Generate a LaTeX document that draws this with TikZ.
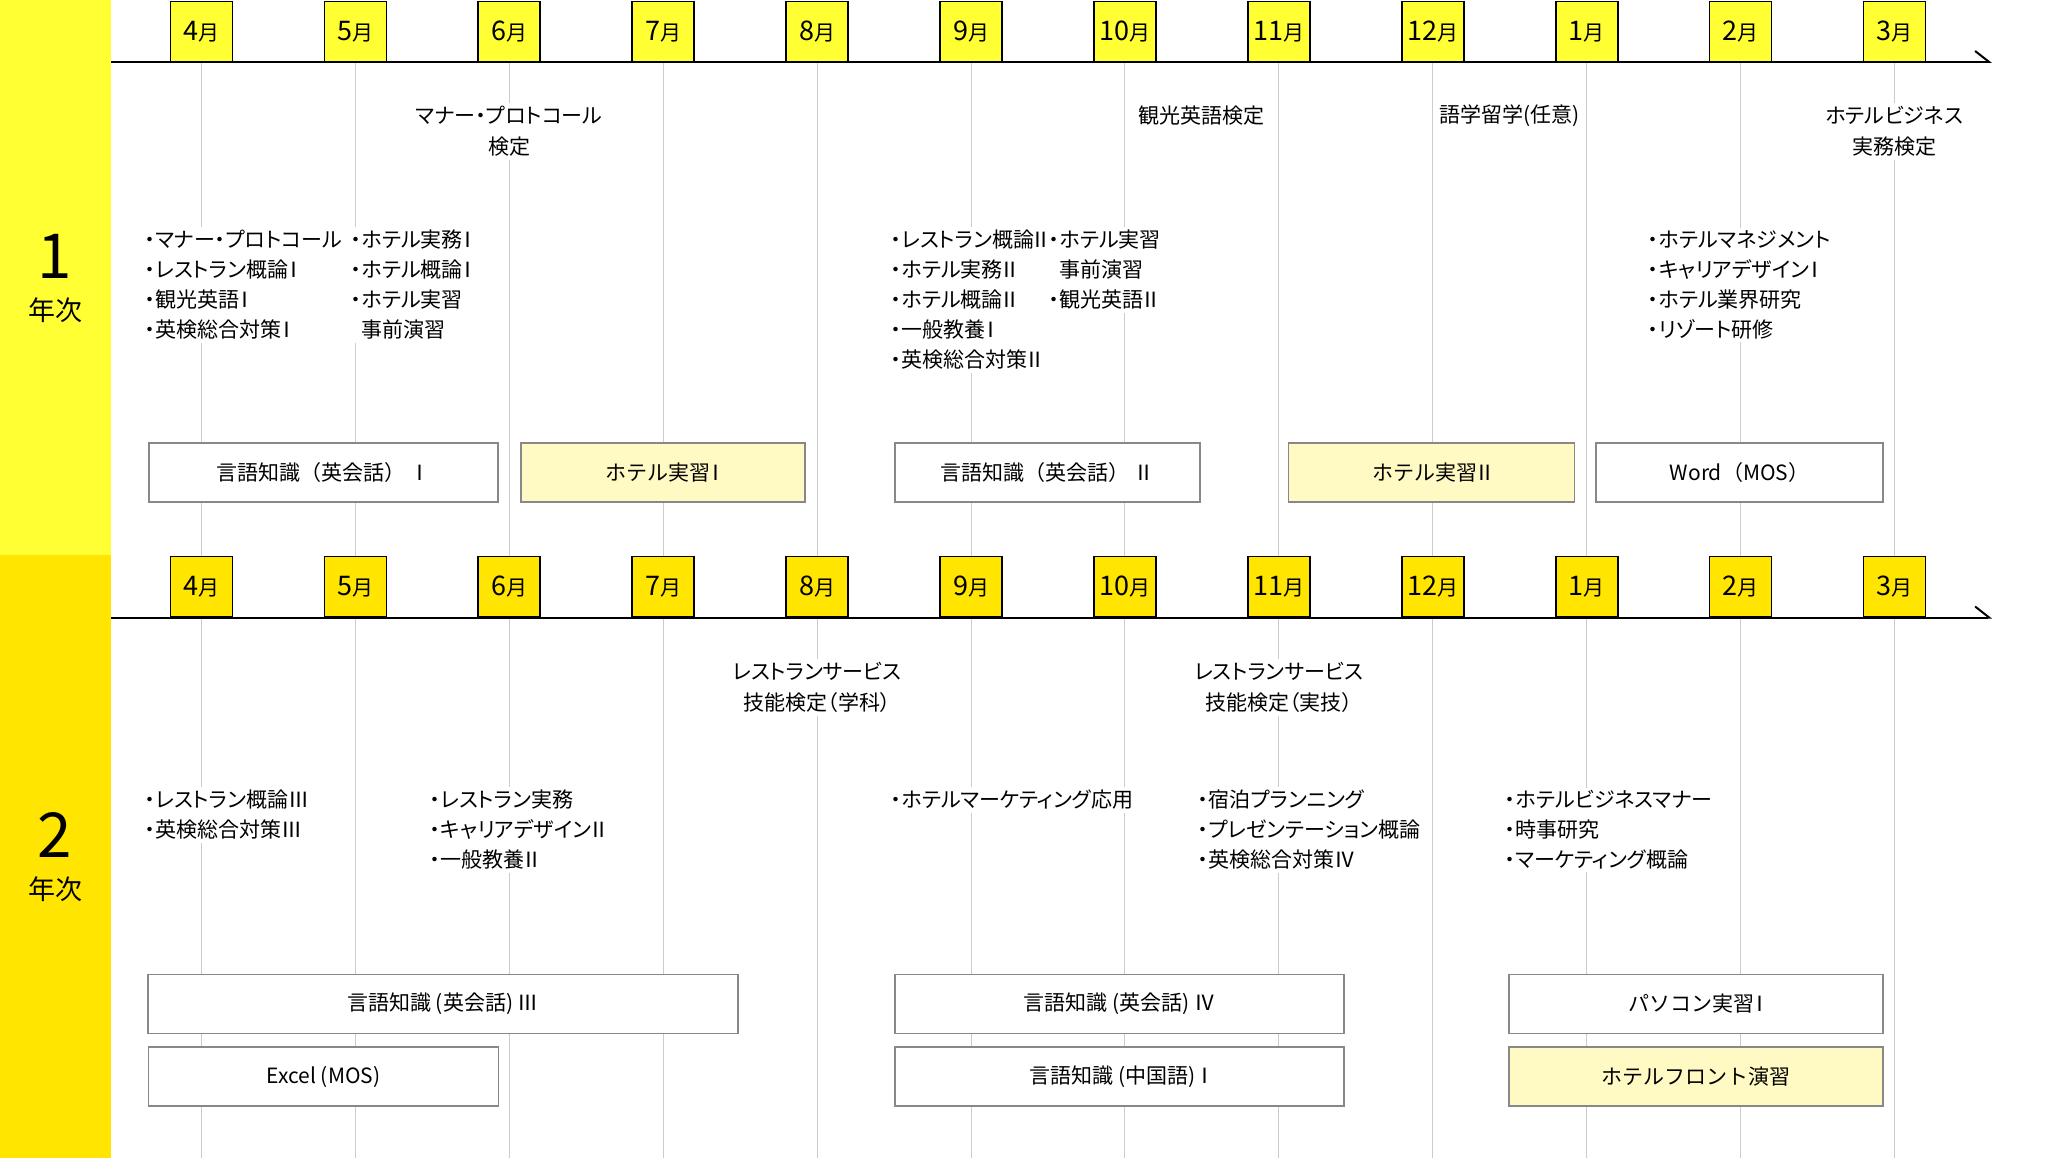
\documentclass[tikz,border=0pt]{standalone}
\usepackage{fontspec}
\setmainfont{Noto Sans CJK JP}
\newfontfamily\propfont{Noto Sans CJK JP}[RawFeature=+palt]
\usetikzlibrary{arrows.meta}
\definecolor{lemon}{RGB}{255,255,51}
\definecolor{gold}{RGB}{255,229,0}
\definecolor{cream}{RGB}{255,249,196}
\definecolor{rule}{RGB}{204,204,204}
\definecolor{frame}{RGB}{136,136,136}
\newcommand{\tsuki}[1]{{\fontsize{27}{27}\selectfont #1}月}
\newcommand{\rI}{\kern-.24em Ⅰ\kern-.3em}
\newcommand{\rII}{\kern-.15em Ⅱ\kern-.22em}
\begin{document}
\begin{tikzpicture}[x=1pt,y=-1pt,
    month/.style={draw=black,line width=1.8pt,minimum width=62pt,minimum height=60pt,
      inner sep=0pt,font=\fontsize{21}{21}\selectfont},
    mona/.style={month,fill=lemon},
    monb/.style={month,fill=gold},
    gridline/.style={rule,line width=1pt},
    axis/.style={line width=2pt,-{Straight Barb[harpoon,length=14pt,width=22pt]}},
    note/.style={anchor=west,fill=white,inner sep=3pt,align=left,
      font=\propfont\fontsize{21}{30}\selectfont},
    exam/.style={fill=white,inner sep=3pt,align=center,
      font=\propfont\fontsize{21}{31}\selectfont},
    course/.style={draw=frame,line width=1.8pt,fill=white,minimum height=59pt,
      inner sep=0pt,font=\fontsize{21}{21}\selectfont},
    practice/.style={course,fill=cream},
    year/.style={font=\fontsize{62}{62}\selectfont},
    nen/.style={font=\fontsize{27}{27}\selectfont}]
      \useasboundingbox (0,0) rectangle (2072,1158);
      \fill[white] (0,0) rectangle (2072,1158);
      \fill[lemon] (0,0) rectangle (111,555);
      \fill[gold] (0,555) rectangle (111,1158);
      \draw
        (201.5,31.5) node[mona] (a4){\tsuki{4}}
        (355.4,31.5) node[mona] (a5){\tsuki{5}}
        (509.3,31.5) node[mona] (a6){\tsuki{6}}
        (663.2,31.5) node[mona] (a7){\tsuki{7}}
        (817.1,31.5) node[mona] (a8){\tsuki{8}}
        (971.0,31.5) node[mona] (a9){\tsuki{9}}
        (1124.9,31.5) node[mona] (a10){\tsuki{10}}
        (1278.8,31.5) node[mona] (a11){\tsuki{11}}
        (1432.7,31.5) node[mona] (a12){\tsuki{12}}
        (1586.6,31.5) node[mona] (a1){\tsuki{1}}
        (1740.5,31.5) node[mona] (a2){\tsuki{2}}
        (1894.4,31.5) node[mona] (a3){\tsuki{3}}
        (201.5,586.5) node[monb] (b4){\tsuki{4}}
        (355.4,586.5) node[monb] (b5){\tsuki{5}}
        (509.3,586.5) node[monb] (b6){\tsuki{6}}
        (663.2,586.5) node[monb] (b7){\tsuki{7}}
        (817.1,586.5) node[monb] (b8){\tsuki{8}}
        (971.0,586.5) node[monb] (b9){\tsuki{9}}
        (1124.9,586.5) node[monb] (b10){\tsuki{10}}
        (1278.8,586.5) node[monb] (b11){\tsuki{11}}
        (1432.7,586.5) node[monb] (b12){\tsuki{12}}
        (1586.6,586.5) node[monb] (b1){\tsuki{1}}
        (1740.5,586.5) node[monb] (b2){\tsuki{2}}
        (1894.4,586.5) node[monb] (b3){\tsuki{3}}
        (201.5,1158) coordinate (e4)
        (355.4,1158) coordinate (e5)
        (509.3,1158) coordinate (e6)
        (663.2,1158) coordinate (e7)
        (817.1,1158) coordinate (e8)
        (971.0,1158) coordinate (e9)
        (1124.9,1158) coordinate (e10)
        (1278.8,1158) coordinate (e11)
        (1432.7,1158) coordinate (e12)
        (1586.6,1158) coordinate (e1)
        (1740.5,1158) coordinate (e2)
        (1894.4,1158) coordinate (e3)
        (111,62) coordinate (s1)
        (1992,62) coordinate (t1)
        (111,617.5) coordinate (s2)
        (1992,617.5) coordinate (t2);
      \begin{scope}[gridline]
        \draw (a4) to (b4);
        \draw (a5) to (b5);
        \draw (a6) to (b6);
        \draw (a7) to (b7);
        \draw (a8) to (b8);
        \draw (a9) to (b9);
        \draw (a10) to (b10);
        \draw (a11) to (b11);
        \draw (a12) to (b12);
        \draw (a1) to (b1);
        \draw (a2) to (b2);
        \draw (a3) to (b3);
        \draw (b4) to (e4);
        \draw (b5) to (e5);
        \draw (b6) to (e6);
        \draw (b7) to (e7);
        \draw (b8) to (e8);
        \draw (b9) to (e9);
        \draw (b10) to (e10);
        \draw (b11) to (e11);
        \draw (b12) to (e12);
        \draw (b1) to (e1);
        \draw (b2) to (e2);
        \draw (b3) to (e3);
      \end{scope}
      \draw[axis] (s1) -- (t1);
      \draw[axis] (s2) -- (t2);
      \node[year] (y1) at (55,256) {1};
      \node[nen] (n1) at (55,310) {年次};
      \node[year] (y2) at (55,835) {2};
      \node[nen] (n2) at (55,889) {年次};
      \node[exam] (q1) at (509.3,131.5) {マナー・プロトコール\\検定};
      \node[exam] (q2) at (1201.8,116) {観光英語検定};
      \node[exam] (q3) at (1509.6,116) {語学留学(任意)};
      \node[exam] (q4) at (1894.4,131.5) {ホテルビジネス\\実務検定};
      \node[exam] (q5) at (817.1,687.5) {レストランサービス\\技能検定（学科）};
      \node[exam] (q6) at (1278.8,687.5) {レストランサービス\\技能検定（実技）};
      \node[note] (l1) at (142,285) {・マナー・プロトコール\\・レストラン概論\rI\\・観光英語\rI\\・英検総合対策\rI};
      \node[note] (l2) at (348,285) {・ホテル実務\rI\\・ホテル概論\rI\\・ホテル実習\\\phantom{・}事前演習};
      \node[note] (l3) at (888,300) {・レストラン概論\rII\\・ホテル実務\rII\\・ホテル概論\rII\\・一般教養\rI\\・英検総合対策\rII};
      \node[note] (l4) at (1046,270) {・ホテル実習\\\phantom{・}事前演習\\・観光英語\rII};
      \node[note] (l5) at (1645,285) {・ホテルマネジメント\\・キャリアデザイン\rI\\・ホテル業界研究\\・リゾート研修};
      \node[note] (m1) at (142,815) {・レストラン概論Ⅲ\\・英検総合対策Ⅲ};
      \node[note] (m2) at (427,830) {・レストラン実務\\・キャリアデザイン\rII\\・一般教養\rII};
      \node[note] (m3) at (888,800) {・ホテルマーケティング応用};
      \node[note] (m4) at (1195,830) {・宿泊プランニング\\・プレゼンテーション概論\\・英検総合対策Ⅳ};
      \node[note] (m5) at (1502,830) {・ホテルビジネスマナー\\・時事研究\\・マーケティング概論};
      \node[course,minimum width=349pt] (k1) at (323.5,472.5) {言語知識（英会話） Ⅰ};
      \node[practice,minimum width=284pt] (h1) at (663,472.5) {ホテル実習\rI};
      \node[course,minimum width=305pt] (k2) at (1047.5,472.5) {言語知識（英会話） Ⅱ};
      \node[practice,minimum width=286pt] (h2) at (1431.5,472.5) {ホテル実習\rII};
      \node[course,minimum width=287pt] (w1) at (1739.5,472.5) {Word（MOS）};
      \node[course,minimum width=590pt] (k3) at (443,1004) {言語知識 (英会話) Ⅲ};
      \node[course,minimum width=350pt] (x1) at (323.5,1076.5) {Excel (MOS)};
      \node[course,minimum width=449pt] (k4) at (1119.5,1004) {言語知識 (英会話) Ⅳ};
      \node[course,minimum width=449pt] (c1) at (1119.5,1076.5) {言語知識 (中国語) \rI};
      \node[course,minimum width=374pt] (p1) at (1696,1004) {パソコン実習\rI};
      \node[practice,minimum width=374pt] (f1) at (1696,1076.5) {ホテルフロント演習};
    \end{tikzpicture}
\end{document}
